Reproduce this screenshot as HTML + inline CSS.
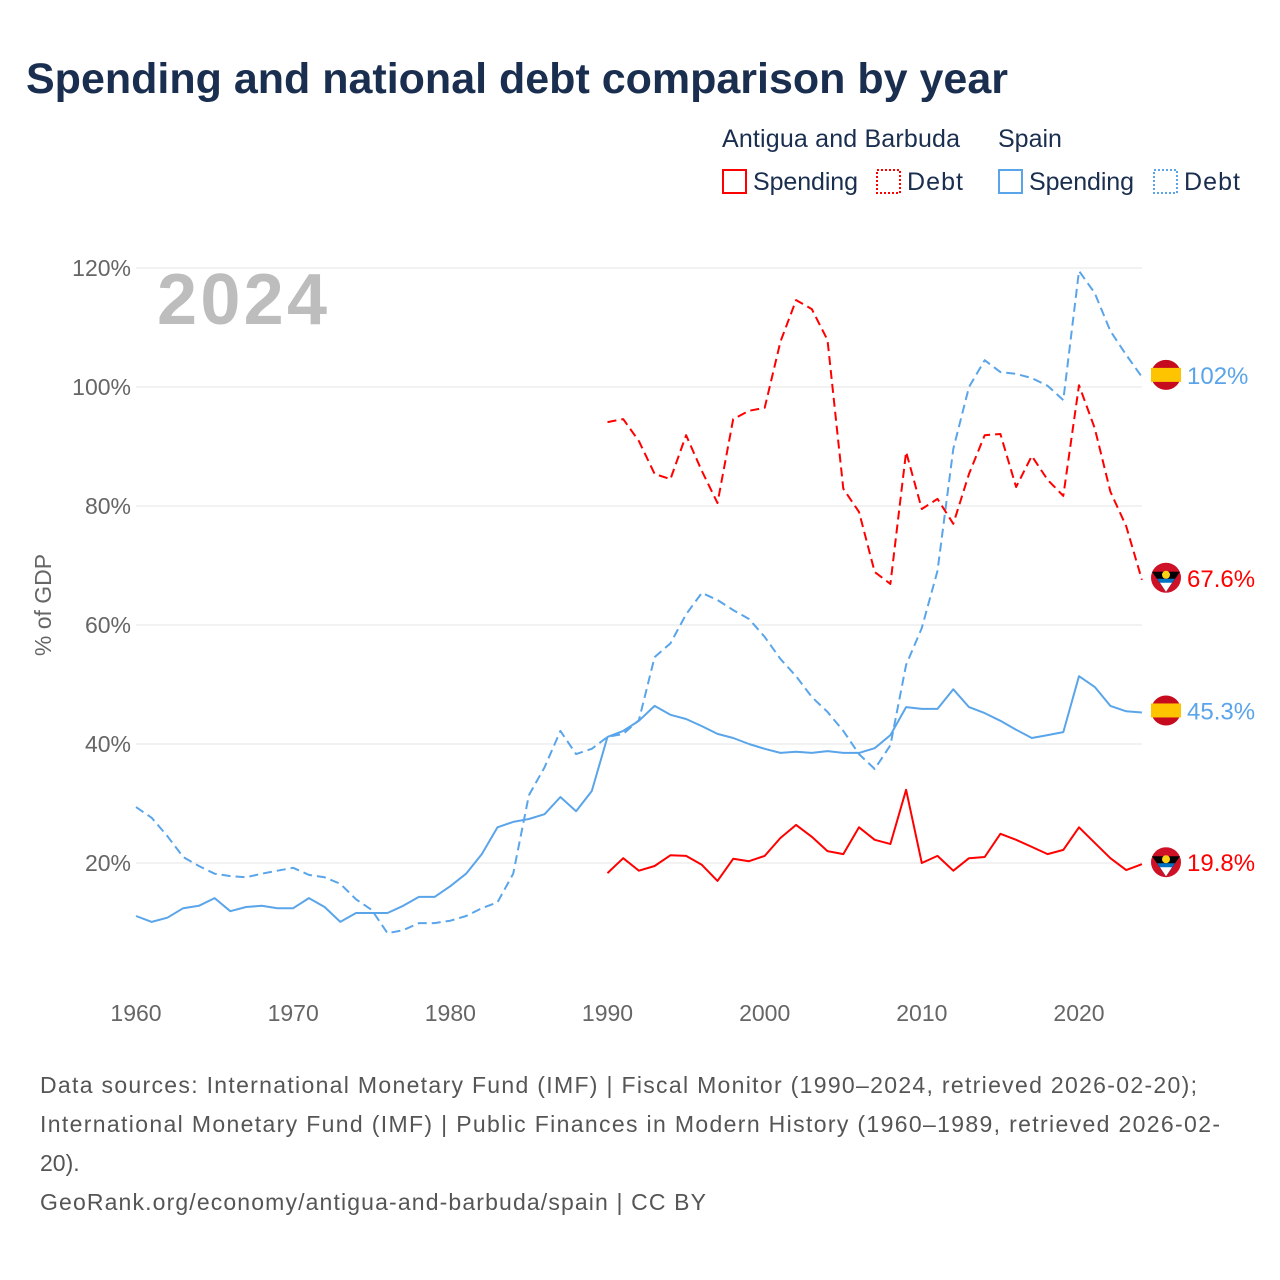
<!DOCTYPE html>
<html><head><meta charset="utf-8">
<style>
body{margin:0;background:#fff;font-family:"Liberation Sans",sans-serif;}
#wrap{position:relative;width:1280px;height:1280px;overflow:hidden;}
</style></head><body>
<div id="wrap">
<svg id="chart" width="1280" height="1280" xmlns="http://www.w3.org/2000/svg">
<text x="26" y="93" font-size="43" font-weight="bold" fill="#1a2e4f" font-family="Liberation Sans, sans-serif">Spending and national debt comparison by year</text>
<g font-size="25" fill="#1a2e4f">
<text x="722" y="147" textLength="238">Antigua and Barbuda</text>
<text x="998" y="147">Spain</text>
<g><rect x="723" y="170" width="23" height="23" fill="none" stroke="#f00" stroke-width="2"/><text x="753" y="190" textLength="105">Spending</text></g>
<g><rect x="877" y="170" width="23" height="23" fill="none" stroke="#f00" stroke-width="2" stroke-dasharray="2,2"/><text x="907" y="190" textLength="56">Debt</text></g>
<g><rect x="999" y="170" width="23" height="23" fill="none" stroke="#5aa5ea" stroke-width="2"/><text x="1029" y="190" textLength="105">Spending</text></g>
<g><rect x="1154" y="170" width="23" height="23" fill="none" stroke="#5aa5ea" stroke-width="2" stroke-dasharray="2,2"/><text x="1184" y="190" textLength="56">Debt</text></g>
</g>
<text x="157" y="324" font-size="72" font-weight="bold" fill="#bdbdbd" textLength="170">2024</text>
<text transform="translate(51,605) rotate(-90)" text-anchor="middle" font-size="23" fill="#666">% of GDP</text>
<g id="grid"></g>
<g id="series"></g>
<g id="ends"></g>
<g font-size="23" fill="#555">
<text x="40" y="1093" textLength="1157">Data sources: International Monetary Fund (IMF) | Fiscal Monitor (1990–2024, retrieved 2026-02-20);</text>
<text x="40" y="1132" textLength="1180">International Monetary Fund (IMF) | Public Finances in Modern History (1960–1989, retrieved 2026-02-</text>
<text x="40" y="1171">20).</text>
<text x="40" y="1210" textLength="666">GeoRank.org/economy/antigua-and-barbuda/spain | CC BY</text>
</g>
</svg>
</div>
<script>
const yTicks=[20,40,60,80,100,120];
const xTicks=[1960,1970,1980,1990,2000,2010,2020];
const spainSpending=[11.1,10.1,10.8,12.4,12.8,14.1,11.9,12.6,12.8,12.4,12.4,14.1,12.6,10.1,11.6,11.6,11.6,12.8,14.3,14.3,16.1,18.2,21.5,26,26.9,27.4,28.2,31.1,28.7,32.1,41.2,42.2,43.9,46.4,44.9,44.2,43,41.7,41,40,39.2,38.5,38.7,38.5,38.8,38.5,38.5,39.3,41.5,46.2,45.9,45.9,49.2,46.2,45.2,43.9,42.4,41,41.5,42,51.4,49.6,46.4,45.5,45.3];
const spainDebt=[29.4,27.6,24.5,21,19.5,18.2,17.8,17.6,18.2,18.7,19.2,18,17.6,16.5,13.9,12.1,8.2,8.7,9.9,9.9,10.3,11.1,12.4,13.4,18.2,31.4,36.1,42.2,38.3,39.2,41.2,41.7,44,54.6,56.9,61.8,65.4,64.2,62.5,61,58,54.3,51.4,47.9,45.4,42.2,38.3,35.8,39.8,53.3,59.5,69.1,89.6,100,104.5,102.5,102.2,101.5,100.2,97.8,119.5,115.8,109.4,105.4,101.7];
const agSpending=[18.3,20.8,18.7,19.5,21.3,21.2,19.7,17,20.7,20.3,21.2,24.2,26.4,24.4,22,21.5,26,23.9,23.2,32.3,20,21.2,18.7,20.8,21,24.9,23.9,22.7,21.5,22.2,26,23.4,20.8,18.8,19.8];
const agDebt=[94.1,94.6,90.9,85.4,84.5,91.9,85.9,80.5,94.6,96,96.5,107.6,114.6,113.1,107.9,82.9,79,68.9,66.9,89.1,79.5,81.2,77,85.4,91.9,92.1,83.2,88.4,84.4,81.7,100.3,93.1,82.4,76.6,67.6];
const endLabels=["102%","67.6%","45.3%","19.8%"];

const NS="http://www.w3.org/2000/svg";
const X=yr=>136+(yr-1960)*(1079-136)/60;
const Y=v=>982-v*5.95;
function mk(tag,attrs,parent){const e=document.createElementNS(NS,tag);for(const k in attrs)e.setAttribute(k,attrs[k]);parent.appendChild(e);return e;}
const grid=document.getElementById('grid');
yTicks.forEach(t=>{
 const l=mk('line',{x1:136,x2:1142,y1:Y(t),y2:Y(t),stroke:'#e6e6e6','stroke-width':1},grid);
 
 
 const tx=mk('text',{x:131,y:Y(t)+8,'text-anchor':'end','font-size':23,fill:'#666'},grid);
 tx.textContent=t+'%';
 
 
});
xTicks.forEach(t=>{
 const tx=mk('text',{x:X(t),y:1021,'text-anchor':'middle','font-size':23,fill:'#666'},grid);
 tx.textContent=t;
 
 
});
const ser=document.getElementById('series');
function line(vals,start,color,dash,name){
 const pts=vals.map((v,i)=>X(start+i).toFixed(1)+','+Y(v).toFixed(1)).join(' ');
 const p=mk('polyline',{points:pts,fill:'none',stroke:color,'stroke-width':2,'stroke-linejoin':'round'},ser);
 if(dash)p.setAttribute('stroke-dasharray','9,5');
 
 
}
line(spainDebt,1960,'#5aa5ea',true,'spain-debt-line');
line(spainSpending,1960,'#5aa5ea',false,'spain-spending-line');
line(agDebt,1990,'#f00',true,'antigua-debt-line');
line(agSpending,1990,'#f00',false,'antigua-spending-line');
const ends=document.getElementById('ends');
const endVals=[spainDebt[64],agDebt[34],spainSpending[64],agSpending[34]];
const endCols=['#5aa5ea','#f00','#5aa5ea','#f00'];
const flags=['spain','antigua','spain','antigua'];
endVals.forEach((v,i)=>{
 const y=Y(v)-2;
 const g=mk('g',{},ends);
 
 
 if(flags[i]=='spain'){
  mk('circle',{cx:1166,cy:y,r:15,fill:'#c60b1e'},g);
  mk('rect',{x:1151,y:y-7,width:30,height:14,fill:'#ffc400'},g);
 } else {
  mk('circle',{cx:1166,cy:y,r:15,fill:'#ce1126'},g);
  mk('path',{d:`M${1152} ${y-6} L1180 ${y-6} L1166 ${y+14} Z`,fill:'#000'},g);
  mk('path',{d:`M1157 ${y+1} L1175 ${y+1} L1166 ${y+14} Z`,fill:'#0072c6'},g);
  mk('path',{d:`M1160 ${y+5} L1172 ${y+5} L1166 ${y+14} Z`,fill:'#fff'},g);
  mk('circle',{cx:1166,cy:y-3,r:4,fill:'#fcd116'},g);
 }
 const t=mk('text',{x:1187,y:y+9,'font-size':24,fill:endCols[i]},g);
 t.textContent=endLabels[i];
});
</script>
</body></html>
